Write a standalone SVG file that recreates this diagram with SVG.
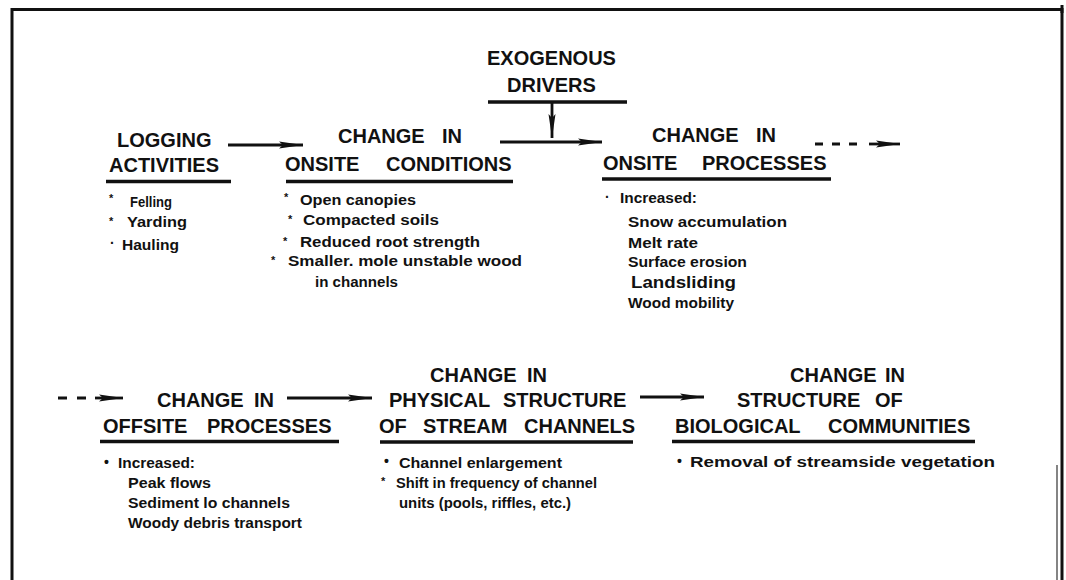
<svg xmlns="http://www.w3.org/2000/svg" width="1066" height="580" viewBox="0 0 1066 580">
<style>
.t{font-family:"Liberation Sans",Arial,sans-serif;font-weight:bold;font-size:20px;fill:#111}
.i{font-family:"Liberation Sans",Arial,sans-serif;font-weight:bold;font-size:14px;fill:#111}
.b{font-family:"Liberation Sans",Arial,sans-serif;font-weight:bold;font-size:11px;fill:#111}
.u{stroke:#111;stroke-width:3.5;fill:none}
.c{stroke:#111;stroke-width:2.8;fill:none}
.f{stroke:#111;stroke-width:3;fill:none}
</style>
<defs>
<marker id="ah" markerUnits="userSpaceOnUse" markerWidth="26" markerHeight="12" refX="24" refY="6" orient="auto">
<path d="M0,2.5 L24,6 L0,9.5 L4,6 Z" fill="#111"/>
</marker>
</defs>
<rect width="1066" height="580" fill="#fff"/>
<g id="frame">
<path class="f" d="M12,580 V9.5 H1062 V580"/>
<path d="M1057,465 V580" stroke="#333" stroke-width="1.2"/>
<path d="M1062,5 V13" stroke="#111" stroke-width="3"/>
</g>
<g id="exogenous">
<text class="t" x="487" y="65">EXOGENOUS</text>
<text class="t" x="507" y="92">DRIVERS</text>
<path class="u" d="M488,102 H627" stroke-width="3"/>
</g>
<g id="logging">
<text class="t" x="117" y="147">LOGGING</text>
<text class="t" x="109" y="172">ACTIVITIES</text>
<path class="u" d="M106,181.5 H231"/>
<text class="b" x="109" y="202">*</text><text class="i" x="130" y="207" textLength="42" lengthAdjust="spacingAndGlyphs">Felling</text>
<text class="b" x="109" y="225">*</text><text class="i" x="127" y="227" textLength="60" lengthAdjust="spacingAndGlyphs">Yarding</text>
<text class="i" x="110" y="248">·</text><text class="i" x="122" y="250" textLength="57" lengthAdjust="spacingAndGlyphs">Hauling</text>
</g>
<g id="onsite-conditions">
<text class="t" x="338" y="143">CHANGE</text><text class="t" x="442" y="143">IN</text>
<text class="t" x="285" y="171">ONSITE</text><text class="t" x="386" y="171">CONDITIONS</text>
<path class="u" d="M286,181.5 H513"/>
<text class="b" x="284" y="201">*</text><text class="i" x="300" y="205" textLength="116" lengthAdjust="spacingAndGlyphs">Open canopies</text>
<text class="b" x="288" y="223">*</text><text class="i" x="303" y="225" textLength="136" lengthAdjust="spacingAndGlyphs">Compacted soils</text>
<text class="b" x="283" y="245">*</text><text class="i" x="300" y="247" textLength="180" lengthAdjust="spacingAndGlyphs">Reduced root strength</text>
<text class="b" x="271" y="264">*</text><text class="i" x="288" y="266" textLength="234" lengthAdjust="spacingAndGlyphs">Smaller. mole unstable wood</text>
<text class="i" x="315" y="287" textLength="83" lengthAdjust="spacingAndGlyphs">in channels</text>
</g>
<g id="onsite-processes">
<text class="t" x="652" y="142">CHANGE</text><text class="t" x="756" y="142">IN</text>
<text class="t" x="603" y="170">ONSITE</text><text class="t" x="702" y="170">PROCESSES</text>
<path class="u" d="M602,179 H831"/>
<text class="i" x="605" y="202">·</text><text class="i" x="620" y="203" textLength="77" lengthAdjust="spacingAndGlyphs">Increased:</text>
<text class="i" x="628" y="227" textLength="159" lengthAdjust="spacingAndGlyphs">Snow accumulation</text>
<text class="i" x="628" y="248" textLength="70" lengthAdjust="spacingAndGlyphs">Melt rate</text>
<text class="i" x="628" y="267" textLength="119" lengthAdjust="spacingAndGlyphs">Surface erosion</text>
<text class="i" x="631" y="288" textLength="105" lengthAdjust="spacingAndGlyphs" style="font-size:16px">Landsliding</text>
<text class="i" x="628" y="308" textLength="106" lengthAdjust="spacingAndGlyphs">Wood mobility</text>
</g>
<g id="offsite-processes">
<text class="t" x="157" y="407">CHANGE</text><text class="t" x="254" y="407">IN</text>
<text class="t" x="103" y="433">OFFSITE</text><text class="t" x="207" y="433">PROCESSES</text>
<path class="u" d="M100,441.5 H339"/>
<text class="i" x="104" y="467">•</text><text class="i" x="118" y="468" textLength="77" lengthAdjust="spacingAndGlyphs">Increased:</text>
<text class="i" x="128" y="488" textLength="83" lengthAdjust="spacingAndGlyphs">Peak flows</text>
<text class="i" x="128" y="508" textLength="162" lengthAdjust="spacingAndGlyphs">Sediment lo channels</text>
<text class="i" x="128" y="528" textLength="174" lengthAdjust="spacingAndGlyphs">Woody debris transport</text>
</g>
<g id="physical-structure">
<text class="t" x="430" y="382">CHANGE</text><text class="t" x="527" y="382">IN</text>
<text class="t" x="389" y="407">PHYSICAL</text><text class="t" x="503" y="407">STRUCTURE</text>
<text class="t" x="379" y="433">OF</text><text class="t" x="423" y="433">STREAM</text><text class="t" x="524" y="433">CHANNELS</text>
<path class="u" d="M380,442 H633"/>
<text class="i" x="384" y="466">•</text><text class="i" x="399" y="468" textLength="163" lengthAdjust="spacingAndGlyphs">Channel enlargement</text>
<text class="b" x="381" y="485">*</text><text class="i" x="396" y="488" textLength="201" lengthAdjust="spacingAndGlyphs">Shift in frequency of channel</text>
<text class="i" x="399" y="508" textLength="172" lengthAdjust="spacingAndGlyphs">units (pools, riffles, etc.)</text>
</g>
<g id="biological-communities">
<text class="t" x="790" y="382">CHANGE</text><text class="t" x="885" y="382">IN</text>
<text class="t" x="737" y="407">STRUCTURE</text><text class="t" x="875" y="407">OF</text>
<text class="t" x="675" y="433">BIOLOGICAL</text><text class="t" x="828" y="433">COMMUNITIES</text>
<path class="u" d="M672,441.5 H975"/>
<text class="i" x="677" y="466">•</text><text class="i" x="690" y="467" textLength="305" lengthAdjust="spacingAndGlyphs">Removal of streamside vegetation</text>
</g>
<g id="connectors">
<path class="c" d="M228,145 H303" marker-end="url(#ah)"/>
<path class="c" d="M500,142 H602" marker-end="url(#ah)"/>
<path class="c" d="M552,102 V138" marker-end="url(#ah)"/>
<path class="c" d="M815,144 H860" stroke-dasharray="8,9"/>
<path class="c" d="M869,144 H900" marker-end="url(#ah)"/>
<path class="c" d="M58,398 H90" stroke-width="4" stroke-dasharray="9,10"/>
<path class="c" d="M95,398 H123" marker-end="url(#ah)"/>
<path class="c" d="M287,398 H372" marker-end="url(#ah)"/>
<path class="c" d="M640,397 H704" marker-end="url(#ah)"/>
</g>
</svg>
